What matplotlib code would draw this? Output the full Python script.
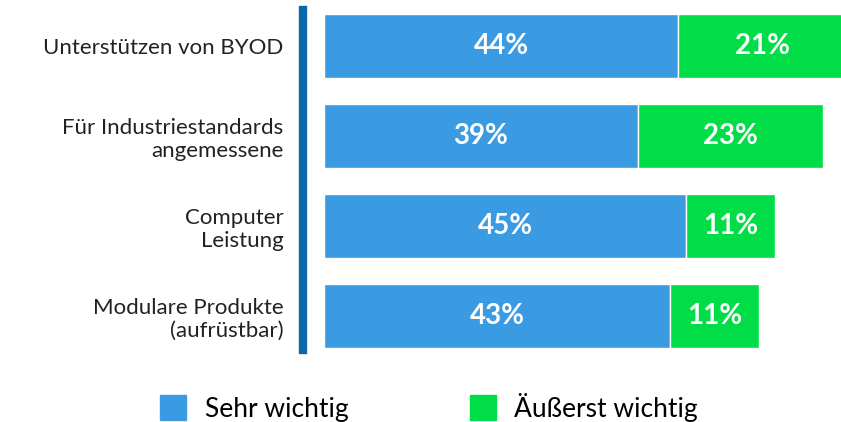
import matplotlib.pyplot as plt
from matplotlib.patches import Patch

plt.rcParams['font.family'] = ['Lato', 'DejaVu Sans']

categories = ['Unterstützen von BYOD', 'Für Industriestandards\nangemessene',
              'Computer\nLeistung', 'Modulare Produkte\n(aufrüstbar)']
sehr = [44, 39, 45, 43]
aeusserst = [21, 23, 11, 11]
series_names = ['Sehr wichtig', 'Äußerst wichtig']
blue = '#3B9BE2'
green = '#00DD46'

fig = plt.figure(figsize=(8.41, 4.22), dpi=100)
ax = fig.add_axes([303 / 841, 1 - 350 / 422, 538 / 841, 340 / 422])

y = range(len(categories))
ax.barh(y, sehr, height=0.71, color=blue, edgecolor='white', linewidth=1)
ax.barh(y, aeusserst, left=sehr, height=0.71, color=green, edgecolor='white', linewidth=1)

for i in y:
    ax.text(sehr[i] / 2, i, f'{sehr[i]}%', ha='center', va='center',
            color='white', fontsize=20, fontweight='bold')
    ax.text(sehr[i] + aeusserst[i] / 2, i, f'{aeusserst[i]}%', ha='center', va='center',
            color='white', fontsize=20, fontweight='bold')

ax.set_xlim(-2.6, 64.2)
ax.set_ylim(3.378, -0.4)
ax.set_yticks(list(y))
ax.set_yticklabels(categories, fontsize=16, color='#222222')
ax.tick_params(axis='y', length=0, pad=14)
ax.set_xticks([])
for s in ['top', 'right', 'bottom']:
    ax.spines[s].set_visible(False)
ax.spines['left'].set_color('#0868AA')
ax.spines['left'].set_linewidth(6)

handles = [Patch(color=blue), Patch(color=green)]
fig.legend(handles, series_names, loc='center', bbox_to_anchor=(0.51, 0.035),
           ncol=2, frameon=False, fontsize=19, handlelength=1.0, handleheight=1.1,
           columnspacing=4.6, handletextpad=0.7)

plt.savefig('out.png', dpi=100)
